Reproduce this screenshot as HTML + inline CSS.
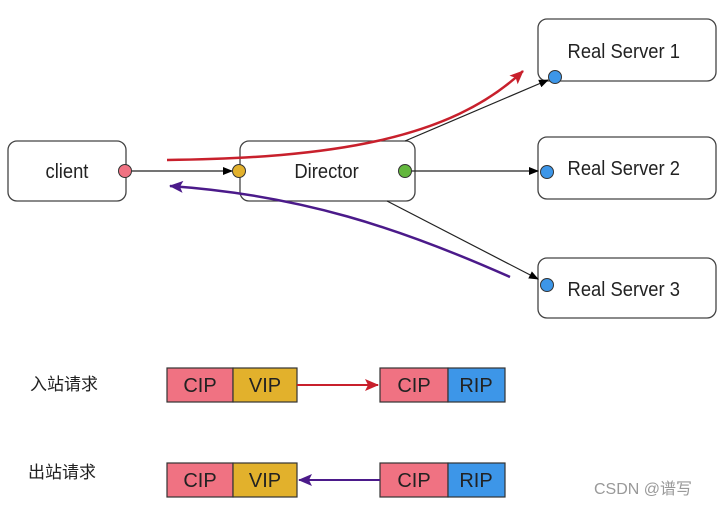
<!DOCTYPE html>
<html><head><meta charset="utf-8"><style>
body{margin:0;background:#fff;width:719px;height:505px;overflow:hidden}
text{font-family:"Liberation Sans","Noto Sans CJK SC",sans-serif}
</style></head><body>
<svg width="719" height="505" viewBox="0 0 719 505">
<defs>
<marker id="b" markerWidth="10" markerHeight="10" refX="9" refY="5" orient="auto" markerUnits="userSpaceOnUse"><path d="M0,1 L10,5 L0,9z" fill="#000"/></marker>
<marker id="r" markerWidth="14" markerHeight="14" refX="13" refY="7" orient="auto" markerUnits="userSpaceOnUse"><path d="M0,1 L14,7 L0,13 L3,7z" fill="#c8202c"/></marker>
<marker id="p" markerWidth="14" markerHeight="14" refX="13" refY="7" orient="auto" markerUnits="userSpaceOnUse"><path d="M0,1 L14,7 L0,13 L3,7z" fill="#4b1a8a"/></marker>
</defs>
<g fill="#fff" stroke="#444" stroke-width="1.3">
<rect x="8" y="141" width="118" height="60" rx="9"/>
<rect x="240" y="141" width="175" height="60" rx="9"/>
<rect x="538" y="19" width="178" height="62" rx="9"/>
<rect x="538" y="137" width="178" height="62" rx="9"/>
<rect x="538" y="258" width="178" height="60" rx="9"/>
</g>
<g stroke="#222" stroke-width="1.2" fill="none">
<line x1="126" y1="171" x2="232" y2="171" marker-end="url(#b)"/>
<line x1="410" y1="171" x2="538" y2="171" marker-end="url(#b)"/>
<line x1="405" y1="141" x2="548" y2="80" marker-end="url(#b)"/>
<line x1="387" y1="201" x2="538" y2="279" marker-end="url(#b)"/>
</g>
<path d="M167,160 C330,158 450,140 523,71" stroke="#c8202c" stroke-width="2.5" fill="none" marker-end="url(#r)"/>
<path d="M510,277 C400,228 300,195 170,186" stroke="#4b1a8a" stroke-width="2.5" fill="none" marker-end="url(#p)"/>
<g stroke="#333" stroke-width="1">
<circle cx="125" cy="171" r="6.5" fill="#f07282"/>
<circle cx="239" cy="171" r="6.5" fill="#e2b12c"/>
<circle cx="405" cy="171" r="6.5" fill="#63b73d"/>
<circle cx="555" cy="77" r="6.5" fill="#3d96e8"/>
<circle cx="547" cy="172" r="6.5" fill="#3d96e8"/>
<circle cx="547" cy="285" r="6.5" fill="#3d96e8"/>
</g>
<g font-size="20" fill="#222" transform="scale(0.92,1)">
<text x="72.8" y="178" text-anchor="middle">client</text>
<text x="355" y="178" text-anchor="middle">Director</text>
<text x="678" y="58" text-anchor="middle">Real Server 1</text>
<text x="678" y="175" text-anchor="middle">Real Server 2</text>
<text x="678" y="296" text-anchor="middle">Real Server 3</text>
</g>
<g font-size="17" fill="#222">
<text x="30" y="390">入站请求</text>
<text x="28" y="478">出站请求</text>
</g>
<g stroke="#333" stroke-width="1.2">
<rect x="167" y="368" width="66" height="34" fill="#f07282"/>
<rect x="233" y="368" width="64" height="34" fill="#e2b12c"/>
<rect x="380" y="368" width="68" height="34" fill="#f07282"/>
<rect x="448" y="368" width="57" height="34" fill="#3d96e8"/>
<rect x="167" y="463" width="66" height="34" fill="#f07282"/>
<rect x="233" y="463" width="64" height="34" fill="#e2b12c"/>
<rect x="380" y="463" width="68" height="34" fill="#f07282"/>
<rect x="448" y="463" width="57" height="34" fill="#3d96e8"/>
</g>
<g font-size="20" fill="#222" text-anchor="middle">
<text x="200" y="392">CIP</text><text x="265" y="392">VIP</text>
<text x="414" y="392">CIP</text><text x="476" y="392">RIP</text>
<text x="200" y="487">CIP</text><text x="265" y="487">VIP</text>
<text x="414" y="487">CIP</text><text x="476" y="487">RIP</text>
</g>
<line x1="297" y1="385" x2="378" y2="385" stroke="#c8202c" stroke-width="2" marker-end="url(#r)"/>
<line x1="380" y1="480" x2="299" y2="480" stroke="#4b1a8a" stroke-width="2" marker-end="url(#p)"/>
<text x="594" y="494" font-size="16" fill="#999">CSDN @谱写</text>
</svg>
</body></html>
